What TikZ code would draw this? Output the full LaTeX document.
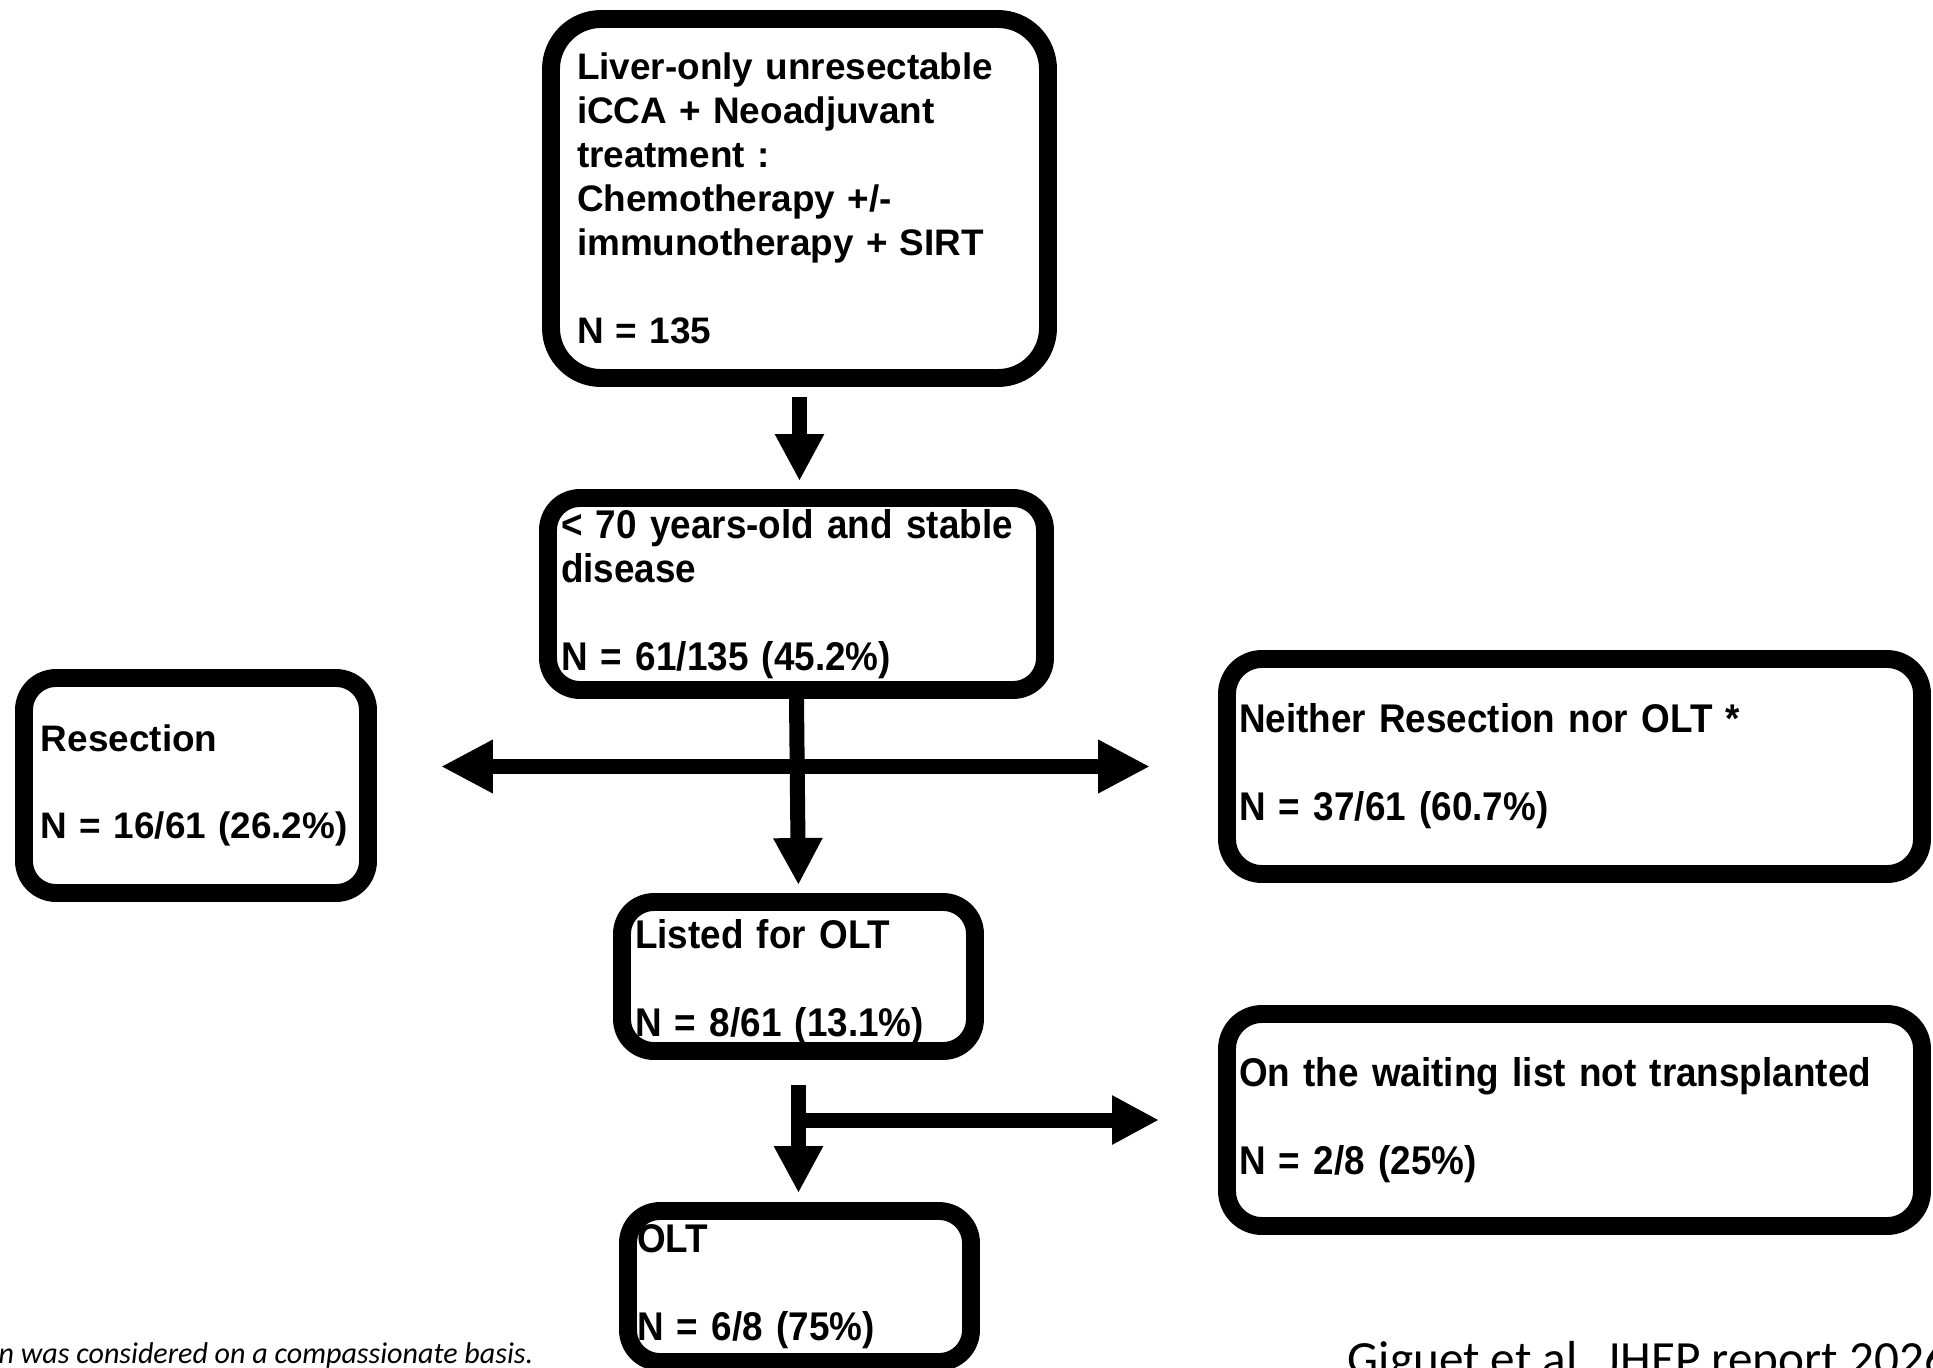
\documentclass[tikz,border=0pt]{standalone}
\usepackage{fontspec}
\setmainfont{Liberation Sans}
\newfontfamily\narrowfont{Liberation Sans}[FakeStretch=0.92, WordSpace=0.8]
\newfontfamily\notefont{Carlito}
\usetikzlibrary{arrows.meta}

\begin{document}
\begin{tikzpicture}[line join=round]
    \tikzstyle{box}=[draw=black, line width=5.1pt, rectangle, rounded corners=3.2mm, align=left, inner ysep=1pt, font={\fontsize{10.5pt}{12.5pt}\selectfont\bfseries}]
    \tikzstyle{narrow box}=[box, font={\narrowfont\fontsize{11.4pt}{12.5pt}\selectfont\bfseries}]
    \tikzstyle{flow}=[draw=black, line width=1.5mm, -{Triangle[length=4.7mm,width=4.6mm]}]

    \useasboundingbox (0,0) rectangle (19.33,-13.68);

    % patient selection
    \node[box, rounded corners=5mm, text width=4.45cm, inner xsep=0.26cm, minimum height=3.59cm] (start) at (7.995,-1.985) {Liver-only unresectable\\iCCA + Neoadjuvant\\treatment :\\Chemotherapy +/-\\immunotherapy + SIRT\\[12.5pt]N = 135};
    \node[narrow box, text width=4.71cm, inner xsep=0.13cm, minimum height=1.92cm] (stab) at (7.965,-5.94) {< 70 years-old and stable\\disease\\[12.5pt]N = 61/135 (45.2\%)};

    % outcomes
    \node[box, text width=3.10cm, inner xsep=0.17cm, minimum height=2.15cm] (res) at (1.96,-7.855) {Resection\\[12.5pt]N = 16/61 (26.2\%)};
    \node[narrow box, rounded corners=3.5mm, text width=6.71cm, inner xsep=0.12cm, minimum height=2.15cm] (nei) at (15.745,-7.665) {Neither Resection nor OLT *\\[12.5pt]N = 37/61 (60.7\%)};
    \node[narrow box, text width=3.27cm, inner xsep=0.13cm, minimum height=1.49cm] (lst) at (7.985,-9.765) {\raisebox{-0.6mm}[\height][\depth]{Listed for OLT}\\[12.5pt]\raisebox{-0.6mm}[\height][\depth]{N = 8/61 (13.1\%)}};
    \node[narrow box, rounded corners=3.5mm, text width=6.71cm, inner xsep=0.12cm, minimum height=2.12cm] (wait) at (15.745,-11.2) {On the waiting list not transplanted\\[12.5pt]N = 2/8 (25\%)};
    \node[narrow box, text width=3.25cm, inner xsep=0.09cm, minimum height=1.51cm] (olt) at (7.995,-12.865) {OLT\\[12.5pt]N = 6/8 (75\%)};

    \draw[flow, shorten <=1mm, shorten >=0.8mm] (start.south) -- (start.south |- stab.north);
    \draw[flow, shorten >=0.8mm] (stab.south) -- (lst.north);
    \draw[line width=1.5mm, {Triangle[length=5.2mm,width=5mm]}-{Triangle[length=5.2mm,width=5mm]}, shorten <=6.4mm, shorten >=6.8mm] (res.east |- nei.west) -- (nei.west);

    \coordinate (split) at (lst.south |- wait.west);
    \draw[flow, shorten <=2.5mm, shorten >=0.9mm] (lst.south) -- (lst.south |- olt.north);
    \draw[flow, shorten >=5.9mm] (split) -- (wait.west);

    \node[font={\notefont\itshape\fontsize{8.55pt}{10pt}\selectfont}, anchor=base west, inner sep=0pt] (note) at (-0.02,-13.63) {n was considered on a compassionate basis.};
    \node[font={\notefont\fontsize{14pt}{16pt}\selectfont}, anchor=base west, inner sep=0pt] (cite) at (13.47,-13.755) {Giguet et al. JHEP report 2026};
\end{tikzpicture}
\end{document}
